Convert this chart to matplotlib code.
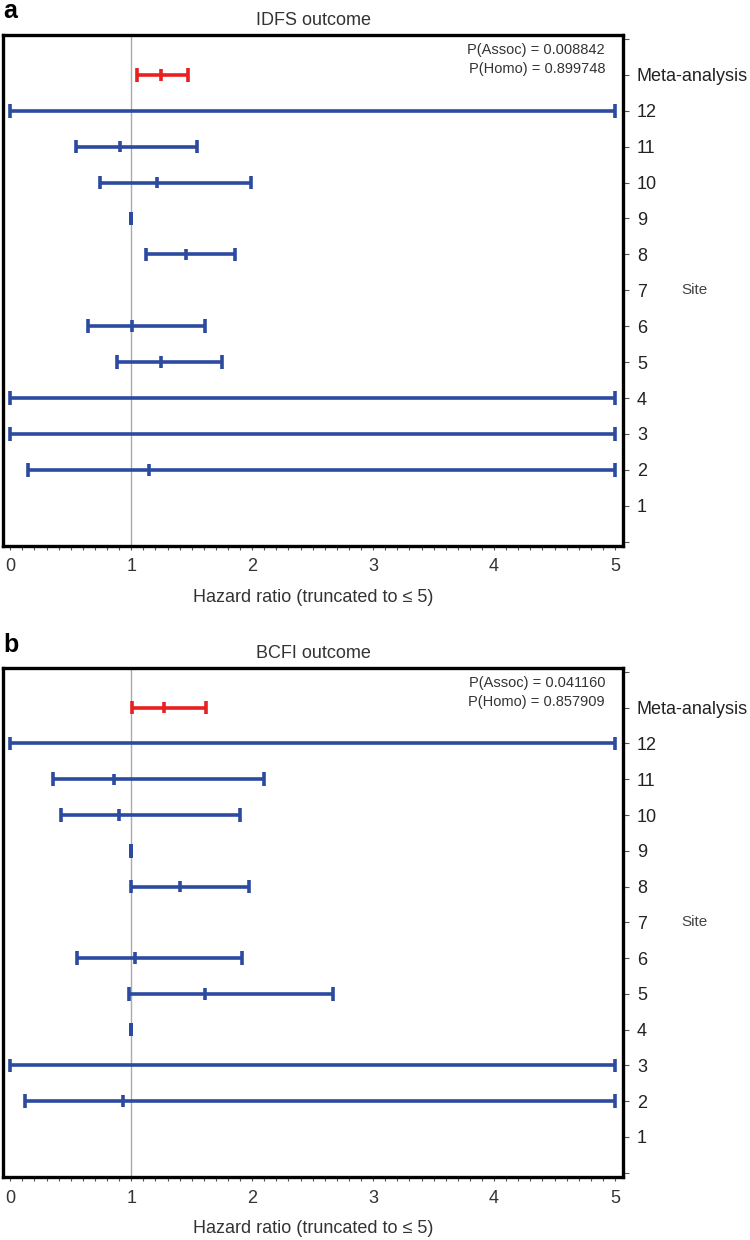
import numpy as np
import matplotlib
matplotlib.use("Agg")
import matplotlib.pyplot as plt
from matplotlib.ticker import MultipleLocator

plt.rcParams["font.family"] = ["Liberation Sans", "DejaVu Sans"]

nan = np.nan
sites = [1, 2, 3, 4, 5, 6, 7, 8, 9, 10, 11, 12]
row_labels = ["1", "2", "3", "4", "5", "6", "7", "8", "9", "10", "11", "12", "Meta-analysis"]

# IDFS outcome
idfs_low = [nan, 0.15, 0.0, 0.0, 0.88, 0.64, nan, 1.12, 1.0, 0.74, 0.54, 0.0]
idfs_mid = [nan, 1.15, nan, nan, 1.25, 1.01, nan, 1.45, 1.0, 1.21, 0.91, nan]
idfs_high = [nan, 5.0, 5.0, 5.0, 1.75, 1.61, nan, 1.86, 1.0, 1.99, 1.54, 5.0]
idfs_meta = [1.05, 1.25, 1.47]
idfs_p = ["P(Assoc) = 0.008842", "P(Homo) = 0.899748"]

# BCFI outcome
bcfi_low = [nan, 0.12, 0.0, 1.0, 0.98, 0.55, nan, 1.0, 1.0, 0.42, 0.35, 0.0]
bcfi_mid = [nan, 0.93, nan, 1.0, 1.61, 1.03, nan, 1.40, 1.0, 0.90, 0.86, nan]
bcfi_high = [nan, 5.0, 5.0, 1.0, 2.67, 1.92, nan, 1.97, 1.0, 1.90, 2.10, 5.0]
bcfi_meta = [1.01, 1.27, 1.62]
bcfi_p = ["P(Assoc) = 0.041160", "P(Homo) = 0.857909"]

BLUE = "#2b4aa0"
RED = "#e8201f"
TXT = "#333333"


def draw_bar(ax, y, lo, mid, hi, color):
    if np.isnan(lo):
        return
    ax.hlines(y, lo, hi, color=color, lw=2.6, zorder=3)
    ax.vlines([lo, hi], y - 0.19, y + 0.19, color=color, lw=2.6, zorder=3)
    if not np.isnan(mid):
        ax.vlines(mid, y - 0.16, y + 0.16, color=color, lw=2.6, zorder=3)


def draw_panel(ax, letter, title, lows, mids, highs, meta, ptext, letter_y):
    ax.axvline(1, color="#aaaaaa", lw=1, zorder=1)
    for s, lo, mid, hi in zip(sites, lows, mids, highs):
        draw_bar(ax, s, lo, mid, hi, BLUE)
    draw_bar(ax, 13, meta[0], meta[1], meta[2], RED)

    ax.set_xlim(-0.06, 5.066)
    ax.set_ylim(-0.12, 14.11)

    ax.xaxis.set_major_locator(MultipleLocator(1))
    ax.xaxis.set_minor_locator(MultipleLocator(0.1))
    ax.tick_params(axis="x", which="both", direction="out", length=3, width=0.8,
                   colors="#555555", labelcolor=TXT, labelsize=13, pad=6)

    ax.yaxis.tick_right()
    ax.set_yticks(range(0, 15))
    ax.set_yticklabels([""] + row_labels + [""])
    ax.tick_params(axis="y", which="both", direction="out", length=4, width=0.8,
                   colors="#555555", labelcolor="#222222", labelsize=13, pad=6)

    for sp in ax.spines.values():
        sp.set_linewidth(2.4)
        sp.set_color("black")

    ax.set_title(title, fontsize=13, color=TXT, pad=7)
    ax.set_xlabel("Hazard ratio (truncated to \u2264 5)", fontsize=13, color=TXT, labelpad=10)
    ax.text(0.971, 0.985, ptext[0] + "\n" + ptext[1], transform=ax.transAxes,
            ha="right", va="top", fontsize=10.5, color=TXT, linespacing=1.45)
    ax.text(1.116, 0.5, "Site", transform=ax.transAxes, ha="center", va="center",
            fontsize=11, color="#444444")
    fig.text(0.004, letter_y, letter, fontsize=18, fontweight="bold", ha="left", va="center")


fig = plt.figure(figsize=(7.5, 12.4), dpi=100)
ax1 = fig.add_axes([0.004, 0.5597, 0.8267, 0.4121])
ax2 = fig.add_axes([0.004, 0.0508, 0.8267, 0.4105])

draw_panel(ax1, "a", "IDFS outcome", idfs_low, idfs_mid, idfs_high, idfs_meta, idfs_p, 1 - 11 / 1240)
draw_panel(ax2, "b", "BCFI outcome", bcfi_low, bcfi_mid, bcfi_high, bcfi_meta, bcfi_p, 1 - 645 / 1240)

fig.savefig("out.png", dpi=100)
